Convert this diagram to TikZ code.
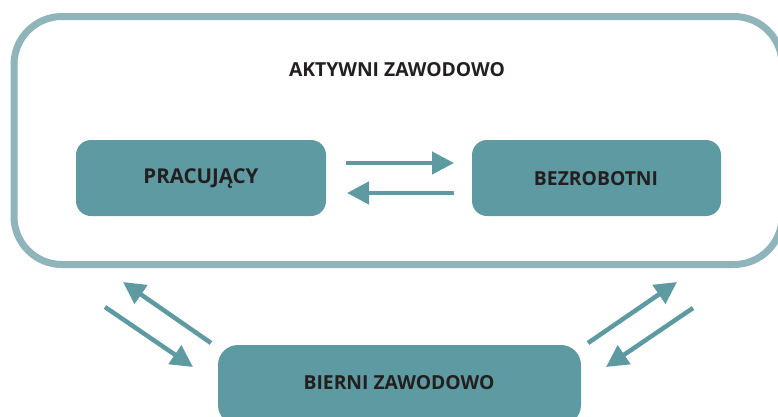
\documentclass[tikz,border=0pt]{standalone}
\usepackage{fontspec}
\setmainfont{Open Sans}
\usetikzlibrary{arrows.meta}
\definecolor{boxfill}{HTML}{5E9AA1}
\definecolor{frame}{HTML}{8FB5BA}
\definecolor{txt}{HTML}{231F20}
\tikzset{
  box/.style={fill=boxfill, rounded corners=15pt, inner sep=0pt},
  lbl/.style={text=txt, inner sep=0pt, anchor=base, font=\fontsize{19.3}{22}\selectfont\bfseries},
  flow/.style={draw=boxfill, line width=4.5pt, -{Triangle[length=22pt,width=22pt]}},
}
\begin{document}
\begin{tikzpicture}[x=1pt,y=-1pt]
\useasboundingbox (0,0) rectangle (778,416);
\clip (0,0) rectangle (778,416);
\draw[frame, line width=7pt, rounded corners=48pt] (14,16.5) rectangle (782,264.5);
\node[lbl] (title) at (397,76) {AKTYWNI ZAWODOWO};
\node[box, minimum width=250pt, minimum height=76pt] (prac) at (201,178) {};
\node[lbl, font=\fontsize{20.5}{22}\selectfont\bfseries] (pract) at (201,183) {PRACUJĄCY};
\node[box, minimum width=249pt, minimum height=76pt] (bezr) at (596.5,178) {};
\node[lbl] (bezrt) at (596,185) {BEZROBOTNI};
\node[box, rounded corners=20pt, minimum width=363pt, minimum height=80pt] (bier) at (399.5,385) {};
\node[lbl] (biert) at (399,389.5) {BIERNI ZAWODOWO};
\coordinate (a1) at (346,163); \coordinate (a2) at (454,163);
\coordinate (b1) at (454,193); \coordinate (b2) at (347,193);
\coordinate (c1) at (211,343); \coordinate (c2) at (123,282);
\coordinate (d1) at (105,307); \coordinate (d2) at (193,367);
\coordinate (e1) at (588,343); \coordinate (e2) at (677,282);
\coordinate (f1) at (693,308); \coordinate (f2) at (606,367);
\draw[flow] (a1) -- (a2);
\draw[flow] (b1) -- (b2);
\draw[flow] (c1) -- (c2);
\draw[flow] (d1) -- (d2);
\draw[flow] (e1) -- (e2);
\draw[flow] (f1) -- (f2);
\end{tikzpicture}
\end{document}
